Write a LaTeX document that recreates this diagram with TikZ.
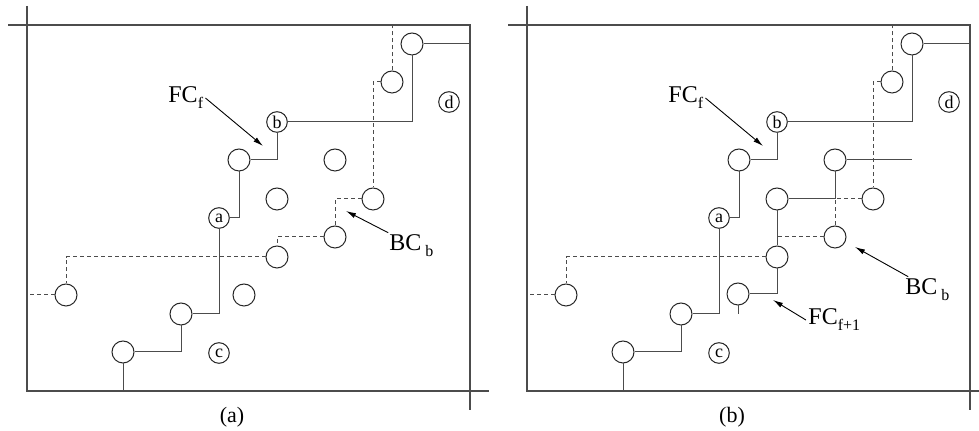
\documentclass[tikz,border=0pt]{standalone}
\usepackage{fontspec}
\setmainfont{Liberation Serif}
\usetikzlibrary{arrows.meta}
\newcommand{\sublbl}[2]{#1\raisebox{-3pt}{\fontsize{8}{8}\selectfont #2}}

\begin{document}
\begin{tikzpicture}[x=0.5pt,y=-0.5pt,
        every node/.style={font=\fontsize{12}{14}\selectfont},
        pnt/.style={circle,draw=black!85,line width=0.5pt,minimum size=11pt,inner sep=0pt},
        lpnt/.style={pnt,minimum size=10.3pt,font=\fontsize{9}{9}\selectfont},
        fwd/.style={draw=black!70,line width=0.5pt},
        bwd/.style={fwd,dash pattern=on 2pt off 1.5pt},
        frm/.style={draw=black!70,line width=0.6pt},
        arr/.style={-{Latex[length=5pt,width=2.6pt]},line width=0.45pt},
        txt/.style={anchor=base west,inner sep=1pt}]
        \useasboundingbox (0,0) rectangle (979,431);

        % (a)
        \coordinate (aNE) at (470,25);
        \coordinate (aSW) at (27,391);
        \draw[frm] (8,25) -- (aNE) -- (470,410);
        \draw[frm] (27,6) -- (aSW) -- (489,391);
        \node[pnt] (atr) at (412,44) {};
        \node[pnt] (au1) at (392,82) {};
        \node[lpnt] (ad) at (449,102) {d};
        \node[lpnt] (ab) at (277,122) {b};
        \node[pnt] (am1) at (239,160) {};
        \node[pnt] (ae1) at (335,160) {};
        \node[pnt] (ae2) at (277,199) {};
        \node[pnt] (abc1) at (373,199) {};
        \node[lpnt] (aa) at (219,218) {a};
        \node[pnt] (abc2) at (335,237) {};
        \node[pnt] (abc3) at (277,257) {};
        \node[pnt] (abc4) at (66,295) {};
        \node[pnt] (ae3) at (244,295) {};
        \node[pnt] (al1) at (181,314) {};
        \node[pnt] (al2) at (123,352) {};
        \node[lpnt] (ac) at (219,353) {c};
        \draw[fwd] (atr) -- (atr -| aNE);
        \draw[fwd] (ab) -| (atr);
        \draw[fwd] (ab) |- (am1);
        \draw[fwd] (am1) |- (aa);
        \draw[fwd] (aa) |- (al1);
        \draw[fwd] (al1) |- (al2);
        \draw[fwd] (al2) -- (al2 |- aSW);
        \draw[bwd] (au1) -- (au1 |- aNE);
        \draw[bwd] (au1) -| (abc1);
        \draw[bwd] (abc1) -| (abc2);
        \draw[bwd] (abc2) -| (abc3);
        \draw[bwd] (abc3) -| (abc4);
        \draw[bwd] (abc4) -- (abc4 -| aSW);
        \node[txt] (afcf) at (166,103) {\sublbl{FC}{f}};
        \coordinate (afcfTip) at (263,146);
        \draw[arr] (afcf.east) -- (afcfTip);
        \node[txt] (abcb) at (387,251) {\sublbl{BC\,}{b}};
        \coordinate (abcbTip) at (346,211);
        \draw[arr] (abcb.150) -- (abcbTip);
        \node[font=\fontsize{11}{13}\selectfont] (acap) at (232,417) {(a)};

        % (b)
        \coordinate (bNE) at (970,25);
        \coordinate (bSW) at (527,391);
        \draw[frm] (508,25) -- (bNE) -- (970,410);
        \draw[frm] (527,6) -- (bSW) -- (979,391);
        \node[pnt] (btr) at (912,44) {};
        \node[pnt] (bu1) at (892,82) {};
        \node[lpnt] (bd) at (949,102) {d};
        \node[lpnt] (bb) at (777,122) {b};
        \node[pnt] (bm1) at (739,160) {};
        \node[pnt] (be1) at (835,160) {};
        \node[pnt] (be2) at (777,199) {};
        \node[pnt] (bbc1) at (873,199) {};
        \node[lpnt] (ba) at (719,218) {a};
        \node[pnt] (bbc2) at (835,237) {};
        \node[pnt] (bbc3) at (777,257) {};
        \node[pnt] (bbc4) at (566,295) {};
        \node[pnt] (be3) at (738,294) {};
        \node[pnt] (bl1) at (681,314) {};
        \node[pnt] (bl2) at (623,352) {};
        \node[lpnt] (bc) at (719,353) {c};
        \coordinate (be1End) at (912,160);
        \coordinate (be3End) at (738,314);
        \draw[fwd] (btr) -- (btr -| bNE);
        \draw[fwd] (bb) -| (btr);
        \draw[fwd] (bb) |- (bm1);
        \draw[fwd] (bm1) |- (ba);
        \draw[fwd] (ba) |- (bl1);
        \draw[fwd] (bl1) |- (bl2);
        \draw[fwd] (bl2) -- (bl2 |- bSW);
        \draw[fwd] (be1) -- (be1End);
        \draw[fwd] (be1) |- (be2);
        \draw[fwd] (be2) -- (bbc3);
        \draw[fwd] (bbc3) |- (be3);
        \draw[fwd] (be3) -- (be3End);
        \draw[bwd] (bu1) -- (bu1 |- bNE);
        \draw[bwd] (bu1) -| (bbc1);
        \draw[bwd] (bbc1) -| (bbc2);
        \draw[bwd] (bbc2) -| (bbc3);
        \draw[bwd] (bbc3) -| (bbc4);
        \draw[bwd] (bbc4) -- (bbc4 -| bSW);
        \node[txt] (bfcf) at (666,103) {\sublbl{FC}{f}};
        \coordinate (bfcfTip) at (763,146);
        \draw[arr] (bfcf.east) -- (bfcfTip);
        \node[txt] (bbcb) at (903,295) {\sublbl{BC\,}{b}};
        \coordinate (bbcbTip) at (855,247);
        \draw[arr] (bbcb.145) -- (bbcbTip);
        \node[txt] (bfcg) at (806,325) {\sublbl{FC}{f+1}};
        \coordinate (bfcgTip) at (773,300);
        \draw[arr] (bfcg.west) -- (bfcgTip);
        \node[font=\fontsize{11}{13}\selectfont] (bcap) at (732,417) {(b)};
\end{tikzpicture}
\end{document}
